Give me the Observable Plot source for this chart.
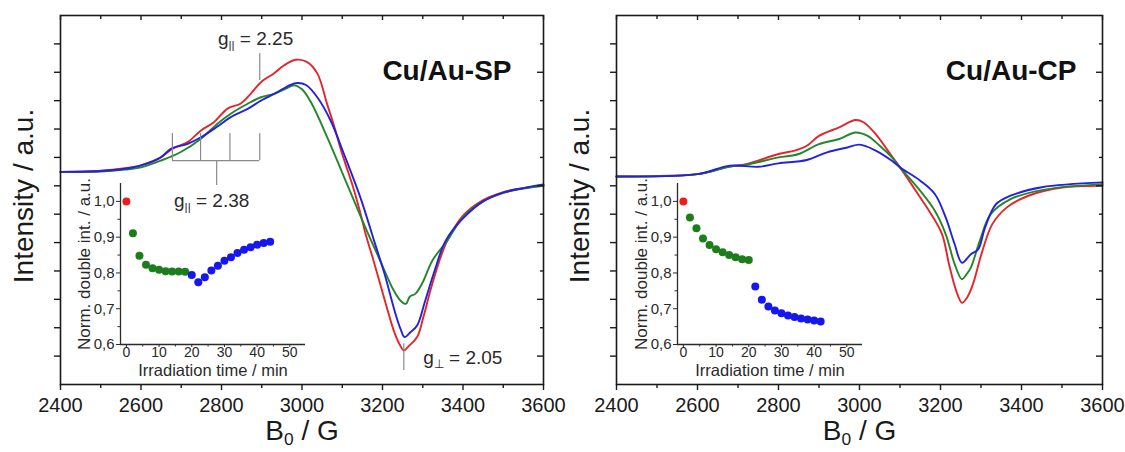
<!DOCTYPE html>
<html><head><meta charset="utf-8">
<script src="https://cdn.jsdelivr.net/npm/d3@7"></script>
<script src="https://cdn.jsdelivr.net/npm/@observablehq/plot@0.6"></script>
<style>
body{margin:0;background:#fff;}
#wrap{position:relative;width:1125px;height:452px;overflow:hidden;background:#fff;}
#wrap svg{position:absolute;}
</style></head><body><div id="wrap"></div>
<script>
// ---------- Data: EPR spectra (B0 in G, intensity in a.u.) ----------
const spRedB   = [2400,2500,2560,2600,2640,2680,2716,2749,2781,2815,2848,2873,2898,2930,2955,2984,3013,3038,3063,3080,3096,3112,3127,3143,3158,3175,3190,3210,3228,3243,3253,3265,3286,3302,3319,3340,3361,3400,3450,3500,3550,3600];
const spRedI   = [7.49,7.53,7.62,7.72,7.92,8.32,8.54,8.95,9.24,9.72,9.90,10.25,10.65,10.96,11.24,11.44,11.36,10.96,9.85,9.1,8.3,7.6,6.95,6.15,5.3,4.5,3.75,2.75,1.9,1.4,1.2,1.35,1.67,2.4,3.31,4.3,5.07,5.95,6.5,6.78,6.92,7.0];
const spGreenB = [2400,2500,2560,2600,2650,2699,2749,2790,2823,2865,2898,2931,2960,2980,3000,3022,3063,3096,3130,3160,3190,3228,3245,3258,3268,3282,3300,3324,3361,3400,3450,3500,3550,3600];
const spGreenI = [7.49,7.5,7.57,7.65,7.89,8.19,8.66,9.19,9.54,9.89,10.12,10.24,10.42,10.54,10.4,9.95,8.7,7.6,6.45,5.45,4.5,3.31,2.95,2.84,3.1,3.2,3.6,4.37,5.07,5.9,6.45,6.75,6.9,7.0];
const spBlueB  = [2400,2500,2560,2600,2650,2674,2716,2749,2790,2823,2865,2898,2939,2970,2989,3010,3038,3071,3104,3146,3179,3205,3230,3245,3255,3270,3286,3305,3327,3357,3400,3450,3500,3550,3600];
const spBlueI  = [7.49,7.52,7.6,7.72,8.01,8.3,8.48,8.71,9.09,9.42,9.71,10.0,10.3,10.55,10.62,10.55,10.12,9.3,8.13,6.55,5.07,3.9,2.6,1.95,1.67,1.85,2.08,2.9,3.9,5.07,5.85,6.45,6.76,6.92,7.05];

const cpRedB   = [2400,2500,2600,2680,2720,2800,2840,2870,2900,2950,2990,3010,3040,3070,3100,3150,3177,3204,3221,3239,3253,3265,3280,3301,3328,3364,3417,3500,3600];
const cpRedI   = [7.33,7.35,7.41,7.68,7.76,8.12,8.24,8.41,8.76,9.06,9.32,9.24,8.82,8.24,7.65,6.59,6.0,5.29,4.24,3.29,2.88,3.05,3.53,4.59,5.65,6.24,6.65,6.94,7.0];
const cpGreenB = [2400,2600,2680,2720,2800,2850,2900,2950,2990,3020,3050,3080,3100,3150,3186,3213,3235,3253,3265,3275,3297,3324,3373,3450,3600];
const cpGreenI = [7.33,7.41,7.68,7.74,8.0,8.12,8.47,8.65,8.88,8.76,8.41,8.0,7.65,6.82,6.12,5.29,4.24,3.71,3.9,4.12,5.06,6.0,6.53,6.85,7.06];
const cpBlueB  = [2400,2600,2680,2750,2800,2870,2920,2970,3000,3040,3080,3100,3150,3186,3213,3235,3253,3275,3293,3310,3337,3373,3450,3600];
const cpBlueI  = [7.33,7.41,7.71,7.67,7.79,7.91,8.18,8.35,8.45,8.24,7.88,7.65,7.18,6.71,5.88,4.94,4.29,4.59,4.76,5.53,6.35,6.65,6.95,7.12];

// ---------- Data: insets (irradiation time / min, normalised double integral) ----------
const spInsetRedT   = [0];
const spInsetRedV   = [1.0];
const spInsetGreenT = [2,4,6,8,10,12,14,16,18];
const spInsetGreenV = [0.911,0.848,0.823,0.813,0.809,0.805,0.804,0.804,0.803];
const spInsetBlueT  = [20,22,24,26,28,30,32,34,36,38,40,42,44];
const spInsetBlueV  = [0.794,0.774,0.788,0.807,0.820,0.834,0.844,0.856,0.865,0.872,0.879,0.884,0.887];

const cpInsetRedT   = [0];
const cpInsetRedV   = [1.0];
const cpInsetGreenT = [2,4,6,8,10,12,14,16,18,20];
const cpInsetGreenV = [0.955,0.925,0.896,0.878,0.866,0.858,0.850,0.844,0.838,0.836];
const cpInsetBlueT  = [22,24,26,28,30,32,34,36,38,40,42];
const cpInsetBlueV  = [0.762,0.725,0.706,0.695,0.687,0.681,0.677,0.673,0.670,0.667,0.664];

// ---------- Axes / ticks ----------
const xDomain = [2400, 3600];
const yDomain = [0, 13];
const xMajor = [2400,2600,2800,3000,3200,3400,3600];
const xMinor = [2500,2700,2900,3100,3300,3500];
const yMajor = [1,3,5,7,9,11];
const yMinor = [2,4,6,8,10,12];
const insetXDomain = [-1.8, 54.8];
const insetYDomain = [0.6, 1.05];
const insetXMajor = [0,10,20,30,40,50];
const insetXMinor = [5,15,25,35,45];
const insetYMajor = [0.6,0.7,0.8,0.9,1.0];
const insetYMinor = [0.65,0.75,0.85,0.95];

// ---------- Annotations (left panel) ----------
const gPar225Line = [2895];
const gPar238Ticks = [2678,2748,2821,2895];
const gPar238Stem = [2788];
const gPerpLine = [3253];

const RED = "#e3262a", GREEN = "#23862a", BLUE = "#2222dd";
const DRED = "#ee1c1c", DGREEN = "#1d7d1d", DBLUE = "#1616ee";
const FONT = "'Liberation Sans', Arial, Helvetica, sans-serif";
const ANN = "#8a8a8a";

function pts(B, I) { return B.map((b, i) => ({b, v: I[i]})); }
function tv(T, V) { return T.map((t, i) => ({t, v: V[i]})); }

function applySubscripts(svg) {
  const ns = "http://www.w3.org/2000/svg";
  svg.querySelectorAll("text").forEach(t => {
    const els = t.querySelectorAll("tspan").length ? [...t.querySelectorAll("tspan")] : [t];
    els.forEach(el => {
      const s = el.textContent;
      const m = s.match(/^(.*?)_\{(.*?)\}(.*)$/);
      if (!m) return;
      el.textContent = "";
      el.appendChild(document.createTextNode(m[1]));
      const sub = document.createElementNS(ns, "tspan");
      sub.setAttribute("baseline-shift", "-32%");
      sub.setAttribute("font-size", "62%");
      sub.textContent = m[2];
      el.appendChild(sub);
      const rest = document.createElementNS(ns, "tspan");
      rest.textContent = m[3];
      el.appendChild(rest);
    });
  });
}

function mainPanel({width, marginLeft, marginRight, red, green, blue, title, titleDx, annotate}) {
  const marginTop = 15, marginBottom = 68, height = 452;
  const innerH = height - marginTop - marginBottom;
  const innerW = width - marginLeft - marginRight;
  const marks = [
    Plot.line(red,   {x: "b", y: "v", stroke: RED,   strokeWidth: 1.9, curve: "catmull-rom"}),
    Plot.line(green, {x: "b", y: "v", stroke: GREEN, strokeWidth: 1.9, curve: "catmull-rom"}),
    Plot.line(blue,  {x: "b", y: "v", stroke: BLUE,  strokeWidth: 1.9, curve: "catmull-rom"}),
    Plot.frame({stroke: "#1a1a1a", strokeWidth: 1.6}),
    Plot.tickX(xMajor, {x: d => d, insetTop: innerH, insetBottom: -6, stroke: "#1a1a1a", strokeWidth: 1.4}),
    Plot.tickX(xMinor, {x: d => d, insetTop: innerH, insetBottom: -4, stroke: "#1a1a1a", strokeWidth: 1.4}),
    Plot.tickX(xMajor, {x: d => d, insetBottom: innerH - 5, stroke: "#1a1a1a", strokeWidth: 1.4}),
    Plot.tickX(xMinor, {x: d => d, insetBottom: innerH - 4, stroke: "#1a1a1a", strokeWidth: 1.4}),
    Plot.tickY(yMajor.concat(yMinor), {y: d => d, insetLeft: -6, insetRight: innerW, stroke: "#1a1a1a", strokeWidth: 1.4}),
    Plot.tickY(yMajor, {y: d => d, insetLeft: innerW - 6, stroke: "#1a1a1a", strokeWidth: 1.4}),
    Plot.tickY(yMinor, {y: d => d, insetLeft: innerW - 3, stroke: "#1a1a1a", strokeWidth: 1.4}),
    Plot.axisX({ticks: xMajor, tickSize: 0, tickPadding: 13, fontSize: 20, label: null, tickFormat: d => String(d)}),
    Plot.text(["Intensity / a.u."], {frameAnchor: "left", textAnchor: "middle", dx: -36, dy: -4, rotate: -90, fontSize: 28, fill: "#1a1a1a"}),
    Plot.text(["B_{0} / G"], {frameAnchor: "bottom", textAnchor: "middle", dy: 55, fontSize: 28, fill: "#1a1a1a"}),
    Plot.text([title], {frameAnchor: "top-right", dx: titleDx, dy: 45, fontSize: 28, fontWeight: "bold", textAnchor: "end", fill: "#111"})
  ];
  if (annotate) {
    marks.push(
      Plot.ruleX(gPar225Line, {x: d => d, y1: 10.71, y2: 11.66, stroke: ANN, strokeWidth: 1.2}),
      Plot.ruleX(gPar238Ticks, {x: d => d, y1: 7.89, y2: 8.84, stroke: ANN, strokeWidth: 1.2}),
      Plot.ruleY([7.89], {x1: gPar238Ticks[0], x2: gPar238Ticks[3], stroke: ANN, strokeWidth: 1.2}),
      Plot.ruleX(gPar238Stem, {x: d => d, y1: 7.01, y2: 7.89, stroke: ANN, strokeWidth: 1.2}),
      Plot.ruleX(gPerpLine, {x: d => d, y1: 0.49, y2: 1.44, stroke: ANN, strokeWidth: 1.2}),
      Plot.text(["g_{||} = 2.25"], {x: 2791, y: 12.16, textAnchor: "start", fontSize: 19, fill: "#2a2a2a"}),
      Plot.text(["g_{||} = 2.38"], {x: 2682, y: 6.48, textAnchor: "start", fontSize: 19, fill: "#2a2a2a"}),
      Plot.text(["g_{⊥} = 2.05"], {x: 3301, y: 0.92, textAnchor: "start", fontSize: 19, fill: "#2a2a2a"})
    );
  }
  return Plot.plot({
    width, height, marginLeft, marginRight, marginTop, marginBottom,
    x: {domain: xDomain, axis: null},
    y: {domain: yDomain, axis: null},
    style: {background: "transparent", fontFamily: FONT, color: "#1a1a1a", overflow: "visible"},
    marks
  });
}

function insetPanel({red, green, blue}) {
  const width = 255, height = 211, marginLeft = 60, marginRight = 10, marginTop = 8, marginBottom = 42;
  const innerH = height - marginTop - marginBottom;
  const innerW = width - marginLeft - marginRight;
  return Plot.plot({
    width, height, marginLeft, marginRight, marginTop, marginBottom,
    x: {domain: insetXDomain, axis: null},
    y: {domain: insetYDomain, axis: null},
    style: {background: "transparent", fontFamily: FONT, color: "#2a2a2a", overflow: "visible"},
    marks: [
      Plot.ruleX([insetXDomain[0]], {stroke: "#2a2a2a", strokeWidth: 1.3}),
      Plot.ruleY([insetYDomain[0]], {stroke: "#2a2a2a", strokeWidth: 1.3}),
      Plot.tickX(insetXMinor, {x: d => d, insetTop: innerH, insetBottom: -2.5, stroke: "#2a2a2a"}),
      Plot.tickY(insetYMinor, {y: d => d, insetLeft: -2.5, insetRight: innerW, stroke: "#2a2a2a"}),
      Plot.axisX({ticks: insetXMajor, tickSize: 3, tickPadding: 0, fontSize: 14, label: null, tickFormat: d => String(d)}),
      Plot.axisY({ticks: insetYMajor, tickSize: 4, tickPadding: 2, fontSize: 15, label: null,
                  tickFormat: d => d.toFixed(1).replace(".", ",")}),
      Plot.text(["Irradiation time / min"], {frameAnchor: "bottom", textAnchor: "middle", dy: 31, fontSize: 16.5, fill: "#2a2a2a"}),
      Plot.text(["Norm. double int. / a.u."], {frameAnchor: "left", textAnchor: "middle", dx: -36, rotate: -90, fontSize: 17, fill: "#2a2a2a"}),
      Plot.dot(green, {x: "t", y: "v", r: 4, fill: DGREEN}),
      Plot.dot(blue,  {x: "t", y: "v", r: 4, fill: DBLUE}),
      Plot.dot(red,   {x: "t", y: "v", r: 4, fill: DRED})
    ]
  });
}

const wrap = document.getElementById("wrap");
function place(svg, left, top) {
  svg.style.left = left + "px";
  svg.style.top = top + "px";
  svg.style.maxWidth = "none";
  applySubscripts(svg);
  wrap.appendChild(svg);
}

place(mainPanel({width: 560, marginLeft: 60, marginRight: 17,
  red: pts(spRedB, spRedI), green: pts(spGreenB, spGreenI), blue: pts(spBlueB, spBlueI),
  title: "Cu/Au-SP", titleDx: -32, annotate: true}), 0, 0);
place(mainPanel({width: 565, marginLeft: 56, marginRight: 23,
  red: pts(cpRedB, cpRedI), green: pts(cpGreenB, cpGreenI), blue: pts(cpBlueB, cpBlueI),
  title: "Cu/Au-CP", titleDx: -26, annotate: false}), 560, 0);
place(insetPanel({red: tv(spInsetRedT, spInsetRedV), green: tv(spInsetGreenT, spInsetGreenV), blue: tv(spInsetBlueT, spInsetBlueV)}), 60, 175);
place(insetPanel({red: tv(cpInsetRedT, cpInsetRedV), green: tv(cpInsetGreenT, cpInsetGreenV), blue: tv(cpInsetBlueT, cpInsetBlueV)}), 617, 175);
</script></body></html>
